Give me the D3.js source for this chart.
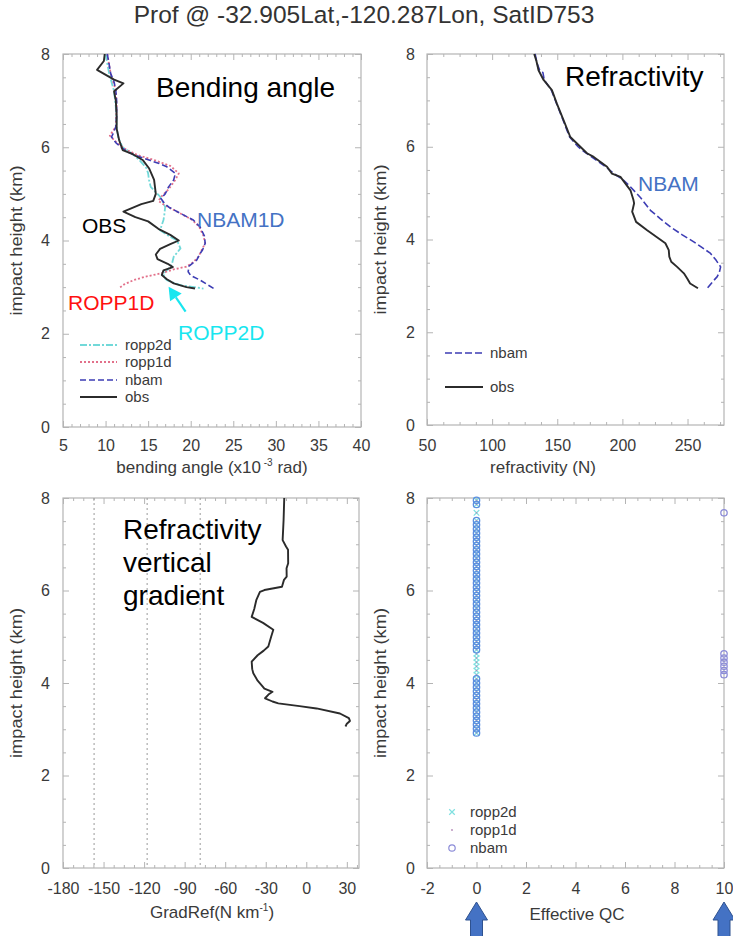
<!DOCTYPE html>
<html>
<head>
<meta charset="utf-8">
<script src="https://cdn.jsdelivr.net/npm/d3@7"></script>
<style>
  body { margin: 0; background: #fff; }
  svg text { font-family: "Liberation Sans", Arial, Helvetica, sans-serif; }
</style>
</head>
<body>
<svg id="chart" width="733" height="936"></svg>
<script>
// ---------------- profile data: [impact height (km), value] ----------------
const bendObs = [
  [8.00, 9.9], [7.85, 9.8], [7.66, 9.0], [7.45, 11.0], [7.37, 12.1], [7.20, 11.0],
  [7.00, 11.2], [6.70, 11.3], [6.40, 11.3], [6.15, 11.6], [5.94, 12.0], [5.85, 13.2],
  [5.72, 14.4], [5.55, 15.1], [5.30, 15.7], [5.00, 15.9], [4.85, 15.6], [4.78, 14.2],
  [4.62, 12.1], [4.50, 13.5], [4.41, 15.0], [4.25, 16.2], [4.12, 17.6], [4.00, 18.6],
  [3.92, 17.6], [3.82, 16.4], [3.70, 15.9], [3.60, 16.1], [3.50, 17.3], [3.43, 17.9],
  [3.36, 16.8], [3.26, 16.6], [3.17, 17.2], [3.08, 18.0], [3.00, 19.5], [2.97, 20.5]
];
const bendNbam = [
  [8.00, 10.2], [7.80, 10.4], [7.58, 10.6], [7.40, 11.0], [7.22, 11.2], [7.00, 11.3],
  [6.87, 11.3], [6.65, 11.3], [6.44, 11.2], [6.30, 10.9], [6.22, 10.7], [6.10, 11.2],
  [6.00, 11.8], [5.90, 12.6], [5.83, 13.4], [5.72, 15.2], [5.65, 16.3], [5.58, 17.2],
  [5.44, 18.2], [5.30, 18.0], [5.15, 17.4], [5.00, 17.0], [4.90, 16.5], [4.80, 16.9],
  [4.72, 17.4], [4.58, 18.8], [4.44, 20.3], [4.29, 21.1], [4.10, 21.6], [3.94, 21.7],
  [3.80, 21.4], [3.72, 21.1], [3.58, 20.7], [3.45, 19.8], [3.33, 19.7], [3.25, 20.0],
  [3.15, 21.1], [3.05, 22.0], [2.97, 22.7]
];
const bendRopp1d = [
  [8.00, 10.2], [7.58, 10.6], [7.22, 11.2], [6.87, 11.3], [6.44, 11.2], [6.25, 10.5],
  [6.10, 11.3], [5.95, 12.4], [5.83, 13.8], [5.72, 15.8], [5.60, 17.6], [5.44, 18.6],
  [5.30, 18.2], [5.10, 17.4], [4.95, 16.6], [4.85, 16.2], [4.75, 17.0], [4.60, 18.6],
  [4.44, 20.2], [4.29, 21.0], [4.10, 21.5], [3.94, 21.7], [3.80, 21.3], [3.65, 20.9],
  [3.52, 20.2], [3.44, 19.5], [3.38, 18.0], [3.30, 16.6], [3.22, 14.6], [3.15, 13.3],
  [3.06, 12.2], [2.98, 11.6]
];
const bendRopp2d = [
  [8.00, 10.0], [7.60, 10.4], [7.20, 11.0], [6.87, 11.2], [6.44, 11.3], [6.20, 11.5],
  [6.00, 12.0], [5.94, 12.5], [5.85, 13.2], [5.72, 14.0], [5.55, 14.8], [5.44, 15.0],
  [5.30, 15.1], [5.15, 15.3], [4.94, 16.4], [4.72, 17.0], [4.55, 16.9], [4.44, 16.8],
  [4.22, 16.4], [4.10, 17.4], [4.00, 18.4], [3.83, 18.8], [3.65, 18.0], [3.50, 17.8],
  [3.43, 17.6], [3.29, 16.8], [3.20, 16.9], [3.15, 17.2], [3.04, 18.8], [2.97, 21.5]
];

const refrObs = [
  [8.00, 132.3], [7.85, 134.0], [7.65, 135.6], [7.44, 139.5], [7.22, 145.9], [6.93, 149.7],
  [6.57, 154.9], [6.21, 160.0], [6.00, 167.7], [5.86, 172.8], [5.78, 178.0], [5.57, 188.2],
  [5.42, 192.0], [5.35, 198.5], [5.06, 206.2], [4.85, 208.5], [4.78, 209.0], [4.60, 207.5],
  [4.38, 210.5], [4.20, 219.0], [4.06, 226.0], [3.92, 233.0], [3.77, 235.6], [3.63, 236.0],
  [3.52, 237.5], [3.41, 242.0], [3.27, 247.2], [3.15, 250.0], [3.05, 252.0], [2.95, 258.0]
];
const refrNbam = [
  [8.00, 133.0], [7.80, 134.5], [7.65, 136.5], [7.60, 139.0], [7.44, 140.0], [7.22, 145.5],
  [6.93, 149.5], [6.57, 154.5], [6.21, 159.5], [6.00, 166.0], [5.95, 168.0], [5.86, 172.5],
  [5.57, 187.0], [5.42, 193.5], [5.30, 200.0], [5.14, 206.0], [4.90, 214.0], [4.63, 221.5],
  [4.45, 229.0], [4.27, 237.0], [4.10, 246.0], [3.95, 254.8], [3.83, 261.0], [3.70, 267.7],
  [3.55, 272.0], [3.41, 275.4], [3.30, 274.5], [3.20, 272.8], [3.08, 269.0], [2.95, 265.2]
];

const gradObs = [
  [8.00, -16.3], [7.52, -16.8], [7.09, -17.5], [6.95, -15.0], [6.88, -13.5], [6.59, -13.4],
  [6.48, -14.6], [6.30, -14.5], [6.23, -16.5], [6.08, -18.0], [6.01, -31.0], [5.97, -34.3],
  [5.79, -37.0], [5.60, -38.5], [5.43, -40.4], [5.30, -32.0], [5.15, -24.4], [5.00, -26.0],
  [4.79, -28.1], [4.70, -31.5], [4.60, -36.0], [4.46, -40.4], [4.30, -40.0], [4.21, -39.2],
  [4.05, -36.0], [3.95, -33.0], [3.88, -31.0], [3.81, -25.0], [3.75, -28.0], [3.67, -30.5],
  [3.60, -25.0], [3.56, -20.7], [3.50, -5.0], [3.45, 7.6], [3.34, 24.9], [3.24, 31.5],
  [3.18, 32.3], [3.12, 30.0], [3.06, 29.0]
];
// reference gradient levels (N km^-1): critical refraction and fractions of it
const gradRefLines = [-157, -117.75, -78.5];

// quality-control levels (km) and the nbam levels flagged with QC = 10
const qcLevels = [
  2.92, 3.01, 3.10, 3.19, 3.28, 3.37, 3.46, 3.55, 3.64, 3.73, 3.82, 3.91, 4.00, 4.09,
  4.18, 4.27, 4.36, 4.45, 4.54, 4.63, 4.72, 4.81, 4.90, 4.99, 5.08, 5.17, 5.26, 5.35,
  5.44, 5.53, 5.62, 5.71, 5.80, 5.89, 5.98, 6.07, 6.16, 6.25, 6.34, 6.43, 6.52, 6.61,
  6.70, 6.79, 6.88, 6.97, 7.06, 7.15, 7.24, 7.33, 7.42, 7.51, 7.68, 7.86, 7.95
];
const nbamFlagged = [4.18, 4.27, 4.36, 4.45, 4.54, 4.63, 7.68];
const ropp2dQC = 0, ropp1dQC = 0, flaggedQC = 10;

// axis tick values
const heightTicks = [0, 2, 4, 6, 8];
const bendTicks = [5, 10, 15, 20, 25, 30, 35, 40];
const refrTicks = [50, 100, 150, 200, 250];
const gradTicks = [-180, -150, -120, -90, -60, -30, 0, 30];
const qcTicks = [-2, 0, 2, 4, 6, 8, 10];

// ---------------- drawing ----------------
const svg = d3.select("#chart");
const frameColor = "#b4b4b4";
const labelColor = "#3a3a3a";

const colors = {
  obs: "#2b2b2b",
  nbam: "#3d3db4",
  ropp1d: "#e2708a",
  ropp2d: "#72d9d9"
};

svg.append("text")
  .attr("x", 364).attr("y", 23)
  .attr("text-anchor", "middle")
  .attr("font-size", 24.5).attr("fill", "#333")
  .text("Prof @ -32.905Lat,-120.287Lon, SatID753");

function range(a, b, step) {
  const out = [];
  for (let v = a; v <= b + 1e-9; v += step) out.push(+v.toFixed(4));
  return out;
}

function makePanel(cfg) {
  const g = svg.append("g");
  const x = d3.scaleLinear().domain(cfg.xDomain).range([cfg.left, cfg.right]);
  const y = d3.scaleLinear().domain([0, 8]).range([cfg.bottom, cfg.top]);
  const xMinor = range(cfg.xDomain[0], cfg.xDomain[1], cfg.xMinorStep)
    .filter(v => !cfg.xTicks.includes(v));
  const yMinor = range(0, 8, 0.5).filter(v => !heightTicks.includes(v));
  const fmt = d => String(d);

  function styleAxis(sel, labels) {
    sel.select(".domain").remove();
    sel.selectAll(".tick line").attr("stroke", frameColor);
    sel.selectAll("text")
      .attr("fill", labelColor)
      .attr("font-size", 16)
      .attr("font-family", "Liberation Sans, Arial, sans-serif");
    if (!labels) sel.selectAll("text").remove();
  }

  // major + minor ticks pointing inward on all four sides
  g.append("g").attr("transform", `translate(0,${cfg.bottom})`)
    .call(d3.axisBottom(x).tickValues(cfg.xTicks).tickSize(-6).tickPadding(cfg.xPad).tickFormat(fmt))
    .call(s => styleAxis(s, true));
  g.append("g").attr("transform", `translate(0,${cfg.bottom})`)
    .call(d3.axisBottom(x).tickValues(xMinor).tickSize(-3).tickFormat(""))
    .call(s => styleAxis(s, false));
  g.append("g").attr("transform", `translate(0,${cfg.top})`)
    .call(d3.axisTop(x).tickValues(cfg.xTicks).tickSize(-6).tickFormat(""))
    .call(s => styleAxis(s, false));
  g.append("g").attr("transform", `translate(0,${cfg.top})`)
    .call(d3.axisTop(x).tickValues(xMinor).tickSize(-3).tickFormat(""))
    .call(s => styleAxis(s, false));
  g.append("g").attr("transform", `translate(${cfg.left},0)`)
    .call(d3.axisLeft(y).tickValues(heightTicks).tickSize(-6).tickPadding(cfg.yPad).tickFormat(fmt))
    .call(s => styleAxis(s, true));
  g.append("g").attr("transform", `translate(${cfg.left},0)`)
    .call(d3.axisLeft(y).tickValues(yMinor).tickSize(-3).tickFormat(""))
    .call(s => styleAxis(s, false));
  g.append("g").attr("transform", `translate(${cfg.right},0)`)
    .call(d3.axisRight(y).tickValues(heightTicks).tickSize(-6).tickFormat(""))
    .call(s => styleAxis(s, false));
  g.append("g").attr("transform", `translate(${cfg.right},0)`)
    .call(d3.axisRight(y).tickValues(yMinor).tickSize(-3).tickFormat(""))
    .call(s => styleAxis(s, false));

  g.append("rect")
    .attr("x", cfg.left).attr("y", cfg.top)
    .attr("width", cfg.right - cfg.left).attr("height", cfg.bottom - cfg.top)
    .attr("fill", "none").attr("stroke", frameColor).attr("stroke-width", 1.2);

  // y title
  g.append("text")
    .attr("transform", `translate(${cfg.yTitleX},${(cfg.top + cfg.bottom) / 2}) rotate(-90)`)
    .attr("text-anchor", "middle")
    .attr("font-size", 17).attr("fill", labelColor)
    .attr("textLength", 150).attr("lengthAdjust", "spacingAndGlyphs")
    .text("impact height (km)");

  return { g, x, y };
}

function drawLine(p, data, color, dash, width) {
  const line = d3.line().x(d => p.x(d[1])).y(d => p.y(d[0]));
  p.g.append("path").datum(data)
    .attr("d", line)
    .attr("fill", "none")
    .attr("stroke", color)
    .attr("stroke-width", width)
    .attr("stroke-dasharray", dash)
    .attr("stroke-linejoin", "round");
}

function legendLine(g, x0, x1, yc, color, dash, width, label, tx) {
  g.append("line").attr("x1", x0).attr("x2", x1).attr("y1", yc).attr("y2", yc)
    .attr("stroke", color).attr("stroke-width", width).attr("stroke-dasharray", dash);
  g.append("text").attr("x", tx).attr("y", yc + 5)
    .attr("font-size", 15).attr("fill", labelColor).text(label);
}

// ---- panel 1: bending angle ----
const p1 = makePanel({
  left: 63, right: 361, top: 54, bottom: 427,
  xDomain: [5, 40], xTicks: bendTicks, xMinorStep: 1,
  xPad: 13, yPad: 13, yTitleX: 22
});
drawLine(p1, bendRopp2d, colors.ropp2d, "7,2,2,2", 1.8);
drawLine(p1, bendRopp1d, colors.ropp1d, "2,2", 1.8);
drawLine(p1, bendNbam, colors.nbam, "6,3", 1.6);
drawLine(p1, bendObs, colors.obs, null, 1.9);

{
  const t = svg.append("text").attr("x", 212).attr("y", 473)
    .attr("text-anchor", "middle").attr("font-size", 17).attr("fill", labelColor);
  t.append("tspan").text("bending angle (x10");
  t.append("tspan").attr("dy", -7).attr("font-size", 10).text(" -3");
  t.append("tspan").attr("dy", 7).text(" rad)");
}
legendLine(p1.g, 80, 117, 345, colors.ropp2d, "7,2,2,2", 1.8, "ropp2d", 125);
legendLine(p1.g, 80, 117, 362, colors.ropp1d, "2,2", 1.8, "ropp1d", 125);
legendLine(p1.g, 80, 117, 380, colors.nbam, "6,3", 1.6, "nbam", 125);
legendLine(p1.g, 80, 117, 397, colors.obs, null, 1.9, "obs", 125);

p1.g.append("text").attr("x", 156).attr("y", 97).attr("font-size", 28).attr("fill", "#000").text("Bending angle");
p1.g.append("text").attr("x", 197).attr("y", 227).attr("font-size", 21).attr("fill", "#4472c4").text("NBAM1D");
p1.g.append("text").attr("x", 82).attr("y", 233).attr("font-size", 21).attr("fill", "#000").text("OBS");
p1.g.append("text").attr("x", 68).attr("y", 310).attr("font-size", 21).attr("fill", "#ff1010").text("ROPP1D");
p1.g.append("text").attr("x", 178).attr("y", 340).attr("font-size", 21).attr("fill", "#18e6ef").text("ROPP2D");
{
  // arrow pointing at the lowest ropp2d levels
  const tipX = p1.x(17.4), tipY = p1.y(3.01);
  const tailX = tipX + 17, tailY = tipY + 25;
  const ang = Math.atan2(tipY - tailY, tipX - tailX);
  const L = 13, W = 7;
  const bx = tipX - L * Math.cos(ang), by = tipY - L * Math.sin(ang);
  p1.g.append("line").attr("x1", tailX).attr("y1", tailY).attr("x2", bx).attr("y2", by)
    .attr("stroke", "#18e6ef").attr("stroke-width", 2.2);
  p1.g.append("polygon")
    .attr("points", [
      [tipX, tipY],
      [bx + W * Math.sin(ang), by - W * Math.cos(ang)],
      [bx - W * Math.sin(ang), by + W * Math.cos(ang)]
    ].map(p => p.join(",")).join(" "))
    .attr("fill", "#18e6ef");
}

// ---- panel 2: refractivity ----
const p2 = makePanel({
  left: 427, right: 724, top: 54, bottom: 425,
  xDomain: [50, 278], xTicks: refrTicks, xMinorStep: 12.5,
  xPad: 15, yPad: 12, yTitleX: 386
});
drawLine(p2, refrNbam, colors.nbam, "7,3", 1.6);
drawLine(p2, refrObs, colors.obs, null, 1.9);
svg.append("text").attr("x", 543).attr("y", 473)
  .attr("text-anchor", "middle").attr("font-size", 17).attr("fill", labelColor)
  .text("refractivity (N)");
legendLine(p2.g, 445, 483, 353, colors.nbam, "7,3", 1.6, "nbam", 490);
legendLine(p2.g, 445, 483, 387, colors.obs, null, 1.9, "obs", 490);
p2.g.append("text").attr("x", 565).attr("y", 86).attr("font-size", 28).attr("fill", "#000").text("Refractivity");
p2.g.append("text").attr("x", 638).attr("y", 191).attr("font-size", 21).attr("fill", "#4472c4").text("NBAM");

// ---- panel 3: refractivity vertical gradient ----
const p3 = makePanel({
  left: 63, right: 359, top: 498, bottom: 868,
  xDomain: [-180, 39], xTicks: gradTicks, xMinorStep: 7.5,
  xPad: 15, yPad: 13, yTitleX: 22
});
gradRefLines.forEach(v => {
  p3.g.append("line")
    .attr("x1", p3.x(v)).attr("x2", p3.x(v))
    .attr("y1", p3.y(8)).attr("y2", p3.y(0))
    .attr("stroke", "#9a9a9a").attr("stroke-width", 1).attr("stroke-dasharray", "2,3");
});
drawLine(p3, gradObs, colors.obs, null, 1.9);
{
  const t = svg.append("text").attr("x", 212).attr("y", 918)
    .attr("text-anchor", "middle").attr("font-size", 17).attr("fill", labelColor);
  t.append("tspan").text("GradRef(N km");
  t.append("tspan").attr("dy", -7).attr("font-size", 10).text("-1");
  t.append("tspan").attr("dy", 7).text(")");
}
["Refractivity", "vertical", "gradient"].forEach((s, i) => {
  p3.g.append("text").attr("x", 123).attr("y", 539 + i * 33)
    .attr("font-size", 28).attr("fill", "#000").text(s);
});

// ---- panel 4: effective QC ----
const p4 = makePanel({
  left: 427, right: 724, top: 498, bottom: 868,
  xDomain: [-2, 10], xTicks: qcTicks, xMinorStep: 0.5,
  xPad: 15, yPad: 12, yTitleX: 386
});
svg.append("text").attr("x", 577).attr("y", 920)
  .attr("text-anchor", "middle").attr("font-size", 17).attr("fill", labelColor)
  .text("Effective QC");

const crossPath = d3.symbol().type(d3.symbolX).size(22)();
qcLevels.forEach(h => {
  p4.g.append("path")
    .attr("transform", `translate(${p4.x(ropp2dQC)},${p4.y(h)})`)
    .attr("d", crossPath)
    .attr("fill", "none").attr("stroke", "#7fe0e0").attr("stroke-width", 1.2);
});
qcLevels.forEach(h => {
  p4.g.append("circle")
    .attr("cx", p4.x(ropp1dQC)).attr("cy", p4.y(h)).attr("r", 0.8)
    .attr("fill", "#b48ab8");
});
qcLevels.forEach(h => {
  const qc = nbamFlagged.includes(h) ? flaggedQC : 0;
  p4.g.append("circle")
    .attr("cx", p4.x(qc)).attr("cy", p4.y(h)).attr("r", 3.2)
    .attr("fill", "none")
    .attr("stroke", qc === flaggedQC ? "#8c8cd8" : "#5d8fe0")
    .attr("stroke-width", 1.3);
});
// legend
p4.g.append("path").attr("transform", "translate(452,812)").attr("d", crossPath)
  .attr("fill", "none").attr("stroke", "#7fe0e0").attr("stroke-width", 1.2);
p4.g.append("circle").attr("cx", 452).attr("cy", 830).attr("r", 0.9).attr("fill", "#b48ab8");
p4.g.append("circle").attr("cx", 452).attr("cy", 848).attr("r", 3.2)
  .attr("fill", "none").attr("stroke", "#8c8cd8").attr("stroke-width", 1.2);
[["ropp2d", 812], ["ropp1d", 830], ["nbam", 848]].forEach(([s, yc]) => {
  p4.g.append("text").attr("x", 470).attr("y", yc + 5)
    .attr("font-size", 15).attr("fill", labelColor).text(s);
});

// upward block arrows under QC 0 and QC 10
[0, 10].forEach(v => {
  const cx = p4.x(v);
  const pts = [
    [cx, 902], [cx + 11, 920], [cx + 6, 920], [cx + 6, 940],
    [cx - 6, 940], [cx - 6, 920], [cx - 11, 920]
  ];
  svg.append("polygon")
    .attr("points", pts.map(p => p.join(",")).join(" "))
    .attr("fill", "#4472c4").attr("stroke", "#2f528f").attr("stroke-width", 1);
});
</script>
</body>
</html>
